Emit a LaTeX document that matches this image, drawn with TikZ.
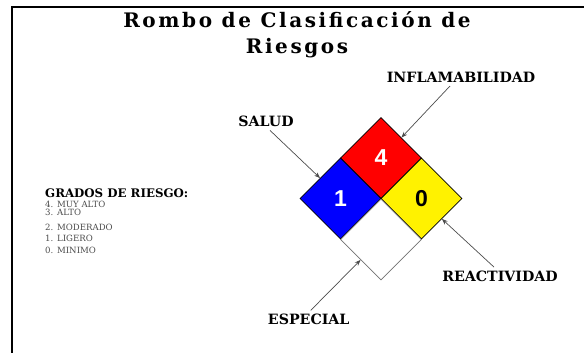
\documentclass[tikz,border=0pt]{standalone}
\usepackage{fontspec}
\setmainfont{DejaVu Serif}
\newfontfamily\numfont{Liberation Sans}
\usetikzlibrary{arrows.meta, shapes.geometric, positioning}

\tikzset{
  cell/.style={diamond, draw=black, line width=0.6pt, inner sep=0pt,
    minimum width=81pt, minimum height=81pt,
    font=\numfont\bfseries\fontsize{23}{23}\selectfont},
  labeltag/.style={font=\bfseries\fontsize{14.2}{14.2}\selectfont},
  grado/.style={anchor=base west, text=black!70, font=\fontsize{8.6}{8.6}\selectfont, inner sep=0pt},
  pointer/.style={draw=black!70, line width=0.7pt, -{Stealth[length=6pt,width=4.5pt]}},
  titulotxt/.style={anchor=base, font=\bfseries\fontsize{20}{20}\selectfont\addfontfeature{LetterSpace=13}},
}

\begin{document}
\begin{tikzpicture}[x=1pt, y=-1pt]
  \useasboundingbox (0,0) rectangle (584,353);
  % marco
  \draw[line width=2pt] (584,6.7) -- (12,6.7) -- (12,353);

  % titulo
  \node[titulotxt] (titulo) at (297,27.7) {Rombo de Clasificación de};
  \node[titulotxt] (titulob) at (297,53.5) {Riesgos};

  % rombo
  \node[cell, fill=red, text=white] (rojo) at (381,158) {4};
  \node[cell, fill=blue, text=white] (azul) at (340.5,198.5) {1};
  \node[cell, fill=yellow, text=black] (amarillo) at (421.5,198.5) {0};
  \node[cell, fill=white, draw=black!55] (blanco) at (381,239.5) {};

  % etiquetas
  \node[labeltag] (salud) at (266,121.5) {SALUD};
  \node[labeltag] (inflam) at (461,77.3) {INFLAMABILIDAD};
  \node[labeltag] (reac) at (500,276) {REACTIVIDAD};
  \node[labeltag] (especial) at (308.7,319.3) {ESPECIAL};

  \draw[pointer] ([xshift=4pt]salud.south) -- (azul.north west);
  \draw[pointer] ([xshift=-11pt]inflam.south) -- (rojo.north east);
  \draw[pointer] ([xshift=-6pt]reac.north) -- (amarillo.south east);
  \draw[pointer] ([xshift=2pt]especial.north) -- (blanco.south west);

  % grados
  \node[anchor=base west, inner sep=0pt, font=\bfseries\fontsize{11.8}{11.8}\selectfont] (grados) at (45,197.5) {GRADOS DE RIESGO:};
  \node[grado] (g4) at (45,207) {4. MUY ALTO};
  \node[grado] (g3) at (45,215.5) {3. ALTO};
  \node[grado] (g2) at (45,230) {2. MODERADO};
  \node[grado] (g1) at (45,241) {1. LIGERO};
  \node[grado] (g0) at (45,253) {0. MINIMO};
\end{tikzpicture}
\end{document}
